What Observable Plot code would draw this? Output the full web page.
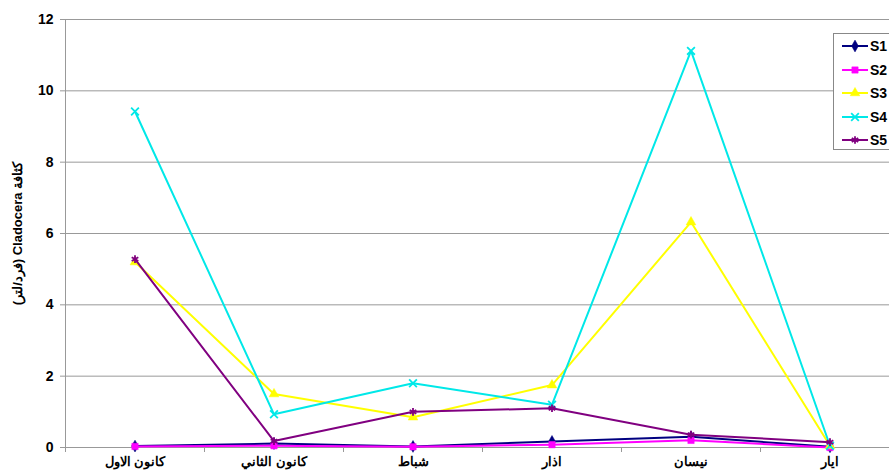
<!DOCTYPE html>
<html>
<head>
<meta charset="utf-8">
<script src="https://cdn.jsdelivr.net/npm/d3@7"></script>
<script src="https://cdn.jsdelivr.net/npm/@observablehq/plot@0.6"></script>
<style>
  body { margin: 0; background: #fff; overflow: hidden; }
  #wrap { position: relative; width: 889px; height: 475px; font-family: "Liberation Sans", Arial, sans-serif; }
  #legend { position: absolute; left: 833px; top: 33px; width: 70px; height: 117px; border: 1px solid #888; background: #fff; box-sizing: border-box; }
  .row { position: absolute; left: 7px; height: 16px; display: flex; align-items: center; }
  .row span { font-weight: bold; font-size: 14px; margin-left: 1px; color: #000; }
</style>
</head>
<body>
<div id="wrap"><div id="legend"></div></div>
<script>
const months = ["كانون الاول", "كانون الثاني", "شباط", "اذار", "نيسان", "ايار"];
const seriesNames = ["S1", "S2", "S3", "S4", "S5"];
const s1 = [0.04, 0.11, 0.03, 0.17, 0.30, 0.02];
const s2 = [0.03, 0.05, 0.02, 0.08, 0.20, 0.00];
const s3 = [5.20, 1.50, 0.85, 1.75, 6.32, 0.05];
const s4 = [9.42, 0.93, 1.80, 1.20, 11.12, 0.05];
const s5 = [5.28, 0.18, 1.00, 1.10, 0.36, 0.15];
const yTicks = [0, 2, 4, 6, 8, 10, 12];
const yLabel = "\u202Bكثافة Cladocera (فرد/لتر)\u202C";

const colors = ["#000080", "#FF00FF", "#FFFF00", "#00E8E8", "#800080"];
const symbols = ["diamond", "square", "triangle", "times", "asterisk"];
const filled = [true, true, true, false, false];
const values = [s1, s2, s3, s4, s5];

const rows = [];
values.forEach((arr, k) => arr.forEach((v, i) => rows.push({series: seriesNames[k], i, month: months[i], value: v})));

const seriesMarks = [];
seriesNames.forEach((name, k) => {
  const data = rows.filter(d => d.series === name);
  seriesMarks.push(Plot.line(data, {x: "i", y: "value", stroke: colors[k], strokeWidth: 2}));
  seriesMarks.push(Plot.dot(data, {
    x: "i", y: "value", symbol: () => symbols[k], r: 3.6,
    fill: filled[k] ? colors[k] : "none", stroke: colors[k], strokeWidth: filled[k] ? 0.5 : 1.8
  }));
});

const boundaries = months.map((m, i) => i - 0.5);

const chart = Plot.plot({
  width: 889, height: 475,
  marginLeft: 65, marginRight: 0, marginTop: 19, marginBottom: 28,
  style: {fontFamily: "'Liberation Sans', Arial, sans-serif", background: "#fff", color: "#000"},
  x: {domain: [-0.5, 5.5], range: [65, 899], axis: null, label: null},
  y: {domain: [0, 12], axis: null, label: null},
  marks: [
    Plot.ruleY(yTicks, {stroke: "#999", strokeWidth: 1}),
    Plot.ruleX([-0.5], {y1: 0, y2: 12, stroke: "#999", strokeWidth: 1}),
    Plot.axisY({ticks: yTicks, tickSize: 5, tickPadding: 7, fontSize: 14, fontWeight: "bold", stroke: "#999", tickFormat: d => d, label: null}),
    Plot.axisX({ticks: boundaries, tickSize: 5, tickFormat: () => "", stroke: "#999", label: null}),
    Plot.axisX({ticks: months.map((m, i) => i), tickSize: 0, tickPadding: 10, fontSize: 12.5, fontWeight: "bold", tickFormat: i => months[i], label: null}),
    Plot.text([yLabel], {frameAnchor: "left", dx: -48, rotate: -90, textAnchor: "middle", fontSize: 13, fontWeight: "bold"}),
    ...seriesMarks
  ]
});
const wrap = document.getElementById("wrap");
wrap.insertBefore(chart, wrap.firstChild);

// legend
const legend = d3.select("#legend");
const symTypes = {diamond: d3.symbolDiamond, square: d3.symbolSquare, triangle: d3.symbolTriangle, times: d3.symbolTimes, asterisk: d3.symbolAsterisk};
seriesNames.forEach((name, k) => {
  const row = legend.append("div").attr("class", "row").style("top", (4 + k * 23.5) + "px");
  const svg = row.append("svg").attr("width", 28).attr("height", 14);
  svg.append("line").attr("x1", 1).attr("x2", 27).attr("y1", 7).attr("y2", 7).attr("stroke", colors[k]).attr("stroke-width", 2);
  const sym = d3.symbol().type(symTypes[symbols[k]]).size(40);
  svg.append("path").attr("d", sym()).attr("transform", "translate(14,7)")
    .attr("fill", filled[k] ? colors[k] : "none").attr("stroke", colors[k]).attr("stroke-width", filled[k] ? 0.5 : 1.8);
  row.append("span").text(name);
});
</script>
</body>
</html>
